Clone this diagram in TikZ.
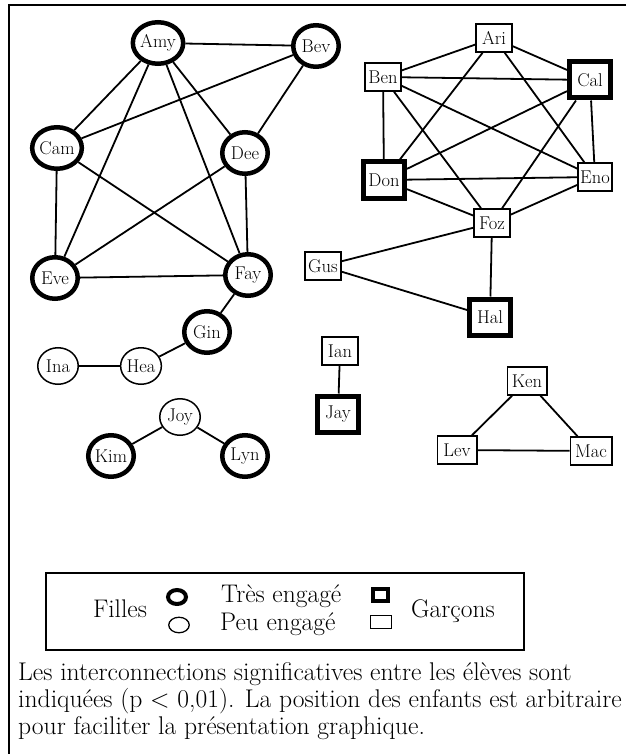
\documentclass[tikz,border=0pt]{standalone}
\usepackage{fontspec}
\usetikzlibrary{shapes.geometric}
\begin{document}
\begin{tikzpicture}[x=1pt,y=-1pt,
  lbl/.style={font=\fontsize{18.5}{19}\selectfont},
  girlhi/.style={lbl,ellipse,draw,line width=4.5pt,minimum width=45.5pt,minimum height=41.5pt,inner sep=0pt},
  girllo/.style={lbl,ellipse,draw,line width=1.5pt,minimum width=40.5pt,minimum height=36.5pt,inner sep=0pt},
  boyhi/.style={lbl,rectangle,draw,line width=5pt,minimum width=41pt,minimum height=36pt,inner sep=1pt},
  boylo/.style={lbl,rectangle,draw,line width=1.5pt,minimum width=36pt,minimum height=28pt,inner xsep=2pt,inner ysep=1pt},
  link/.style={line width=1.8pt},
  legtxt/.style={font=\fontsize{25.5}{26}\selectfont,inner sep=0pt},
  captxt/.style={font=\fontsize{25.6}{27}\selectfont,inner sep=0pt,anchor=base west}
]
\useasboundingbox (0,0) rectangle (626,754);
% frame
\draw[line width=1.5pt] (626,5) -- (9,5) -- (9,754);

% girls
\node[girlhi] (Amy) at (158,43) {Amy};
\node[girlhi] (Bev) at (316,46) {Bev};
\node[girlhi] (Cam) at (57,148) {Cam};
\node[girlhi] (Dee) at (245,153) {Dee};
\node[girlhi] (Eve) at (55,278) {Eve};
\node[girlhi] (Fay) at (248,275) {Fay};
\node[girlhi] (Gin) at (207,332) {Gin};
\node[girllo] (Hea) at (141,366) {Hea};
\node[girllo] (Ina) at (58,366) {Ina};
\node[girllo] (Joy) at (180,417) {Joy};
\node[girlhi] (Kim) at (111,456) {Kim};
\node[girlhi] (Lyn) at (245,456) {Lyn};

% boys
\node[boylo] (Ari) at (494,38) {Ari};
\node[boylo] (Ben) at (383,77) {Ben};
\node[boyhi] (Cal) at (590,80) {Cal};
\node[boyhi] (Don) at (384,180) {Don};
\node[boylo,minimum width=32.5pt] (Eno) at (595,177) {Eno};
\node[boylo] (Foz) at (492,223) {Foz};
\node[boylo] (Gus) at (323,266) {Gus};
\node[boyhi] (Hal) at (490,317) {Hal};
\node[boylo] (Ian) at (340,351) {Ian};
\node[boyhi] (Jay) at (338,414) {Jay};
\node[boylo,minimum width=39.5pt] (Ken) at (527,381) {Ken};
\node[boylo,minimum width=39.5pt] (Lev) at (457,450) {Lev};
\node[boylo,minimum width=41.5pt] (Mac) at (591,451) {Mac};

% girl links
\draw[link] (Amy) -- (Bev);
\draw[link] (Amy) -- (Cam);
\draw[link] (Amy) -- (Dee);
\draw[link] (Amy) -- (Eve);
\draw[link] (Amy) -- (Fay);
\draw[link] (Bev) -- (Cam);
\draw[link] (Bev) -- (Dee);
\draw[link] (Cam) -- (Eve);
\draw[link] (Cam) -- (Fay);
\draw[link] (Dee) -- (Eve);
\draw[link] (Dee) -- (Fay);
\draw[link] (Eve) -- (Fay);
\draw[link] (Fay) -- (Gin);
\draw[link] (Gin) -- (Hea);
\draw[link] (Hea) -- (Ina);
\draw[link] (Joy) -- (Kim);
\draw[link] (Joy) -- (Lyn);

% boy links
\draw[link] (Ari) -- (Ben);
\draw[link] (Ari) -- (Cal);
\draw[link] (Ari) -- (Don);
\draw[link] (Ari) -- (Eno);
\draw[link] (Ben) -- (Cal);
\draw[link] (Ben) -- (Don);
\draw[link] (Ben) -- (Eno);
\draw[link] (Ben) -- (Foz);
\draw[link] (Cal) -- (Don);
\draw[link] (Cal) -- (Eno);
\draw[link] (Cal) -- (Foz);
\draw[link] (Don) -- (Eno);
\draw[link] (Don) -- (Foz);
\draw[link] (Eno) -- (Foz);
\draw[link] (Foz) -- (Gus);
\draw[link] (Foz) -- (Hal);
\draw[link] (Gus) -- (Hal);
\draw[link] (Ian) -- (Jay);
\draw[link] (Ken) -- (Lev);
\draw[link] (Ken) -- (Mac);
\draw[link] (Lev) -- (Mac);

% legend
\draw[line width=1.5pt] (46,573) rectangle (524,650);
\node[legtxt,anchor=base] (filles) at (120,617) {Filles};
\node[ellipse,draw,line width=4pt,minimum width=18pt,minimum height=14pt,inner sep=0pt] (lgh) at (177,597) {};
\node[ellipse,draw,line width=1.3pt,minimum width=20.5pt,minimum height=15.5pt,inner sep=0pt] (lgl) at (179,625) {};
\node[legtxt,anchor=base west] (tres) at (221,602) {Très engagé};
\node[legtxt,anchor=base west] (peu) at (220,630) {Peu engagé};
\node[rectangle,draw,line width=4pt,minimum width=15pt,minimum height=12pt,inner sep=0pt] (lbh) at (380,595) {};
\node[rectangle,draw,line width=1.3pt,minimum width=20.5pt,minimum height=13.5pt,inner sep=0pt] (lbl) at (381,622) {};
\node[legtxt,anchor=base west] (garcons) at (411,617) {Garçons};

% caption
\node[captxt] (c1) at (18,680) {Les interconnections significatives entre les élèves sont};
\node[captxt] (c2) at (18,707) {indiquées (p < 0,01). La position des enfants est arbitraire};
\node[captxt] (c3) at (18,734) {pour faciliter la présentation graphique.};
\end{tikzpicture}
\end{document}
